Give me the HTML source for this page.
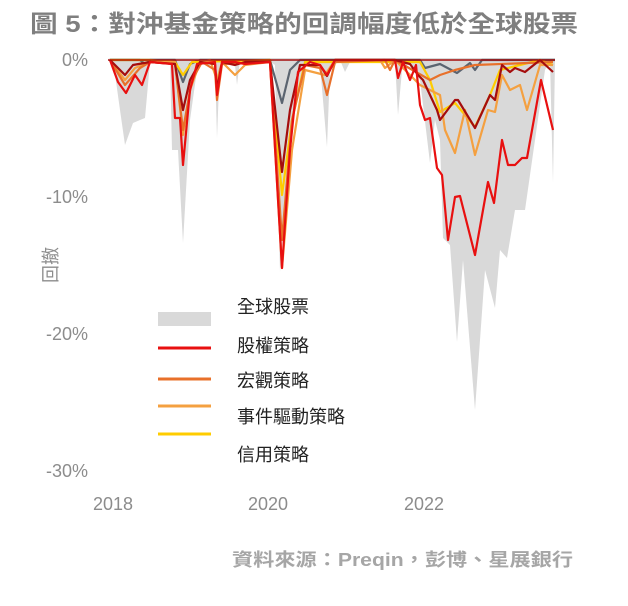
<!DOCTYPE html>
<html><head><meta charset="utf-8"><style>
body{margin:0;background:#fff;}
text{font-family:"Liberation Sans","Noto Sans CJK TC",sans-serif;}
</style></head><body>
<svg width="628" height="601" viewBox="0 0 628 601" xmlns="http://www.w3.org/2000/svg">
<text x="30" y="32" font-size="24" font-weight="bold" fill="#7f7f7f" textLength="548" lengthAdjust="spacingAndGlyphs" font-family="Liberation Sans,Noto Sans CJK TC,sans-serif">圖 5：對沖基金策略的回調幅度低於全球股票</text>
<g font-size="18" fill="#8c8c8c" text-anchor="end">
<text x="88" y="66">0%</text><text x="88" y="203">-10%</text><text x="88" y="340">-20%</text><text x="88" y="477">-30%</text>
</g>
<g font-size="18" fill="#8c8c8c" text-anchor="middle">
<text x="113" y="510">2018</text><text x="268" y="510">2020</text><text x="424" y="510">2022</text>
</g>
<text transform="translate(57,265) rotate(-90)" font-size="18" fill="#8c8c8c" text-anchor="middle" font-family="Noto Sans CJK TC,sans-serif">回撤</text>
<polygon fill="#d9d9d9" points="108,58 113,60 120,110 125,145 133,123 140,120 145,118 150,62 170,60 172,150 178,150 183,243 190,120 197,70 205,60 215,65 217,138 220,62 235,65 237,85 240,60 268,60 275,65 280,272 290,140 300,80 308,62 320,65 327,147 330,70 340,60 345,72 350,62 390,60 395,62 398,115 402,70 410,62 420,80 430,163 435,120 440,140 443,238 450,245 457,342 463,260 475,410 485,270 495,308 500,250 507,258 515,210 525,210 530,175 545,70 550,60 553,183 555,60 555,58 108,58"/>
<g fill="none" stroke-width="2.2" stroke-linejoin="round">
<polyline stroke="#5b6470" points="110,60 140,60 145,64 150,60 175,60 183,82 190,64 200,60 270,60 282,103 290,70 300,60 420,60 425,68 440,64 457,73 470,63 475,70 482,60 555,60"/>
<polyline stroke="#ffcc00" points="110,60 150,60 175,62 183,75 192,62 270,60 282,195 292,120 305,62 420,62 430,80 440,112 455,103 475,127 490,95 500,70 520,65 540,60 553,65"/>
<polyline stroke="#f4a040" points="110,60 125,80 135,68 150,62 175,62 183,135 190,90 200,62 210,60 217,80 222,62 235,75 245,65 270,62 282,268 292,150 305,70 325,75 335,60 380,60 385,68 395,60 420,85 430,90 440,95 445,130 455,153 465,110 475,155 488,110 495,112 502,75 510,90 520,85 527,110 540,65 553,65"/>
<polyline stroke="#e8702a" points="110,60 125,85 140,68 150,62 175,64 183,130 192,80 202,62 215,70 217,100 222,64 270,62 282,240 292,120 305,65 320,68 327,95 335,62 385,60 390,70 395,60 430,80 440,75 455,70 475,65 553,62"/>
<polyline stroke="#a50d0d" points="110,60 125,75 133,65 150,62 175,64 183,110 190,80 200,62 215,64 217,90 222,62 235,65 245,62 270,62 282,172 290,110 300,65 320,65 327,76 335,60 395,60 410,64 418,75 423,80 437,110 440,120 455,100 458,100 475,128 490,95 495,100 502,65 510,72 515,68 525,72 540,60 553,72"/>
<polyline stroke="#e81010" points="110,60 118,82 126,93 135,75 142,85 150,62 172,64 175,118 180,118 183,165 190,90 197,64 215,62 217,95 222,62 235,62 245,64 270,62 282,268 290,150 298,72 310,62 320,65 327,75 335,60 390,60 395,60 398,78 403,62 410,80 416,65 420,105 425,120 430,118 437,168 442,175 448,240 455,197 460,196 475,255 488,182 494,203 502,140 508,165 515,165 522,158 527,158 541,80 553,130"/>
<line x1="108" y1="60" x2="555" y2="60" stroke="#a50d0d" stroke-width="1.5"/>
</g>
<rect x="158" y="312" width="53" height="14" fill="#d9d9d9"/>
<g stroke-width="3">
<line x1="158" y1="348" x2="211" y2="348" stroke="#e81010"/>
<line x1="158" y1="379" x2="211" y2="379" stroke="#e8702a"/>
<line x1="158" y1="406" x2="211" y2="406" stroke="#f4a040"/>
<line x1="158" y1="434" x2="211" y2="434" stroke="#ffcc00"/>
</g>
<g font-size="18" fill="#222" font-family="Noto Sans CJK TC,sans-serif">
<text x="237" y="313">全球股票</text><text x="237" y="352">股權策略</text><text x="237" y="387">宏觀策略</text><text x="237" y="423">事件驅動策略</text><text x="237" y="461">信用策略</text>
</g>
<text x="232" y="566" font-size="18" font-weight="bold" fill="#a6a6a6" textLength="341" lengthAdjust="spacingAndGlyphs" font-family="Liberation Mono,Noto Sans CJK TC,monospace">資料來源：Preqin，彭博、星展銀行</text>
</svg>
</body></html>
